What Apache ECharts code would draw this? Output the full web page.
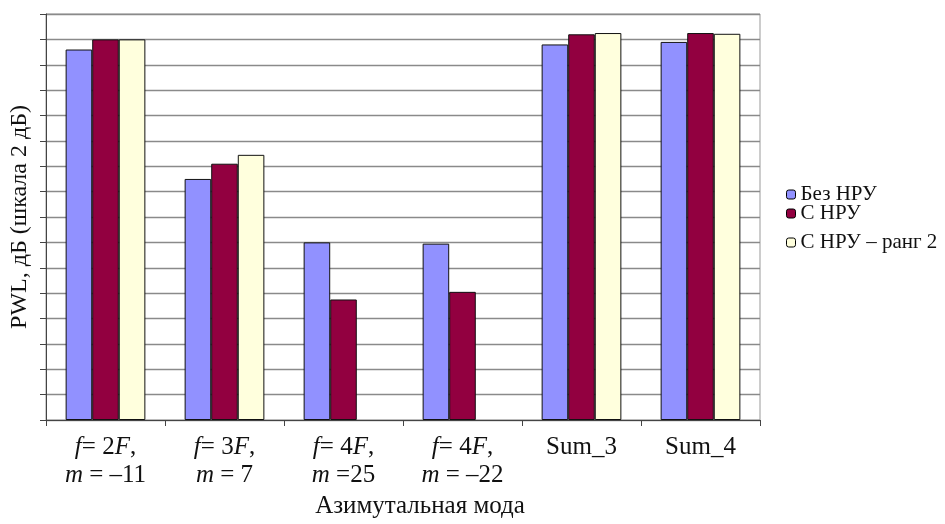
<!DOCTYPE html>
<html>
<head>
<meta charset="utf-8">
<script src="https://cdn.jsdelivr.net/npm/echarts@6/dist/echarts.min.js"></script>
<style>html,body{margin:0;padding:0;background:#fff;}#c{width:945px;height:524px;}</style>
</head>
<body>
<div id="c"></div>
<script>
const categories = [
  '{i|f}= 2{i|F},\n{i|m} = –11',
  '{i|f}= 3{i|F},\n{i|m} = 7',
  '{i|f}= 4{i|F},\n{i|m} =25',
  '{i|f}= 4{i|F},\n{i|m} = –22',
  'Sum_3',
  'Sum_4'
];
const seriesNames = ['Без НРУ', 'С НРУ', 'С НРУ – ранг 2'];
const bezNRU = [14.6, 9.5, 7.0, 6.95, 14.8, 14.9];
const sNRU = [15.0, 10.1, 4.75, 5.05, 15.2, 15.25];
const sNRUrang2 = [15.0, 10.45, null, null, 15.25, 15.22];
const colors = ['#9191FF', '#920040', '#FFFFDD'];
const yMin = 0, yMax = 16, yInterval = 1;

const font = '"Liberation Serif", "Times New Roman", serif';
const chart = echarts.init(document.getElementById('c'));
const data = [bezNRU, sNRU, sNRUrang2];
const legendTops = [179, 198, 227];
chart.setOption({
  animation: false,
  backgroundColor: '#fff',
  grid: { left: 46, right: 185, top: 14, bottom: 102, show: true, borderColor: '#999', borderWidth: 1 },
  legend: seriesNames.map((n, i) => ({
    data: [n], left: 781, top: legendTops[i], orient: 'vertical',
    itemWidth: 9, itemHeight: 9, itemGap: 10,
    textStyle: { fontFamily: font, fontSize: 21, color: '#111' },
    itemStyle: { borderColor: '#000', borderWidth: 1 }
  })),
  xAxis: {
    type: 'category', data: categories,
    axisLine: { lineStyle: { color: '#444', width: 1 } },
    axisTick: { show: true, length: 6, lineStyle: { color: '#444' } },
    axisLabel: {
      interval: 0, margin: 13, fontFamily: font, fontSize: 25, color: '#111', lineHeight: 28,
      rich: { i: { fontStyle: 'italic', fontFamily: font, fontSize: 25, color: '#111', lineHeight: 28 } }
    },
    name: 'Азимутальная мода', nameLocation: 'middle', nameGap: 74,
    nameTextStyle: { fontFamily: font, fontSize: 25, color: '#111', padding: [0, 0, 0, 34] }
  },
  yAxis: {
    type: 'value', min: yMin, max: yMax, interval: yInterval,
    axisLine: { show: true, lineStyle: { color: '#444', width: 1 } },
    axisTick: { show: true, length: 6, lineStyle: { color: '#444' } },
    axisLabel: { show: false },
    splitLine: { lineStyle: { color: '#8a8a8a', width: 1.3 } },
    name: 'PWL, дБ (шкала 2 дБ)', nameLocation: 'middle', nameGap: 14,
    nameTextStyle: { fontFamily: font, fontSize: 24, color: '#111' }
  },
  series: seriesNames.map((n, i) => ({
    name: n, type: 'bar', data: data[i],
    barGap: '0%', barCategoryGap: '33%',
    itemStyle: { color: colors[i], borderColor: '#111', borderWidth: 1 }
  }))
});
</script>
</body>
</html>
